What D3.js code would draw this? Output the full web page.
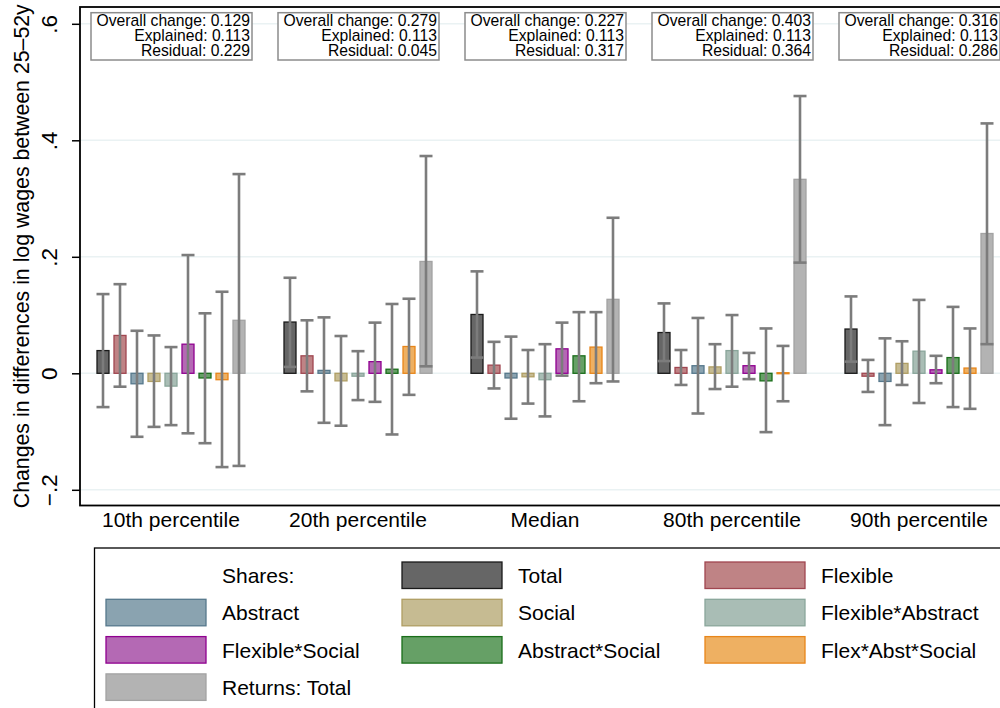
<!DOCTYPE html>
<html>
<head>
<meta charset="utf-8">
<script src="https://cdn.jsdelivr.net/npm/d3@7"></script>
<style>
  html, body { margin: 0; padding: 0; background: #fff; }
  svg { display: block; font-family: "Liberation Sans", Arial, Helvetica, sans-serif; }
</style>
</head>
<body>
<svg id="chart" width="1000" height="708"></svg>
<script>
// ---------------- data ----------------
const groups = ["10th percentile", "20th percentile", "Median", "80th percentile", "90th percentile"];
const series = ["Total", "Flexible", "Abstract", "Social", "Flexible*Abstract",
                "Flexible*Social", "Abstract*Social", "Flex*Abst*Social", "Returns: Total"];

// point estimates per group (order of `series`)
const est10  = [0.039, 0.065, -0.018, -0.014, -0.022, 0.050, -0.008, -0.011, 0.091];
const est20  = [0.088, 0.030, 0.005, -0.013, -0.005, 0.020, 0.007, 0.046, 0.192];
const estMed = [0.101, 0.014, -0.008, -0.006, -0.011, 0.042, 0.030, 0.045, 0.127];
const est80  = [0.070, 0.010, 0.013, 0.011, 0.039, 0.013, -0.013, 0.001, 0.333];
const est90  = [0.076, -0.005, -0.014, 0.017, 0.038, 0.006, 0.027, 0.009, 0.240];

// lower confidence bounds
const lo10  = [-0.058, -0.023, -0.109, -0.092, -0.089, -0.103, -0.120, -0.161, -0.159];
const lo20  = [0.011, -0.031, -0.085, -0.090, -0.046, -0.049, -0.105, -0.037, 0.012];
const loMed = [0.027, -0.026, -0.078, -0.052, -0.074, -0.004, -0.048, -0.017, -0.014];
const lo80  = [0.021, -0.020, -0.069, -0.027, -0.023, -0.010, -0.101, -0.048, 0.190];
const lo90  = [0.020, -0.032, -0.089, -0.020, -0.051, -0.017, -0.058, -0.061, 0.050];

// upper confidence bounds
const hi10  = [0.136, 0.153, 0.073, 0.065, 0.045, 0.203, 0.103, 0.140, 0.342];
const hi20  = [0.164, 0.091, 0.096, 0.064, 0.038, 0.087, 0.119, 0.128, 0.373];
const hiMed = [0.175, 0.054, 0.063, 0.040, 0.050, 0.087, 0.105, 0.105, 0.267];
const hi80  = [0.120, 0.040, 0.095, 0.050, 0.100, 0.035, 0.077, 0.047, 0.476];
const hi90  = [0.132, 0.023, 0.060, 0.055, 0.126, 0.030, 0.114, 0.077, 0.429];

// annotation boxes
const overallChange = ["0.129", "0.279", "0.227", "0.403", "0.316"];
const explained     = ["0.113", "0.113", "0.113", "0.113", "0.113"];
const residual      = ["0.229", "0.045", "0.317", "0.364", "0.286"];

// axis
const yTicks      = [-0.2, 0, 0.2, 0.4, 0.6];
const yTickLabels = ["\u2212.2", "0", ".2", ".4", ".6"];
const yTitle = "Changes in differences in log wages between 25\u201352y";

// ---------------- styles ----------------
const fills   = ["#666666", "#bf8385", "#8aa3b0", "#c6bb92", "#a9bdb5", "#b469b4", "#66a066", "#eeb062", "#b3b3b3"];
const strokes = ["#1a1a1a", "#a04650", "#56788c", "#b09e63", "#8aa69b", "#900090", "#1a6e1a", "#e8861a", "#a3a3a3"];

const estimates = [est10, est20, estMed, est80, est90];
const lows = [lo10, lo20, loMed, lo80, lo90];
const highs = [hi10, hi20, hiMed, hi80, hi90];

const rows = [];
groups.forEach((g, gi) => {
  series.forEach((s, si) => {
    rows.push({ group: g, series: s, si, value: estimates[gi][si], lo: lows[gi][si], hi: highs[gi][si] });
  });
});

// ---------------- layout ----------------
const svg = d3.select("#chart");
const plot = { left: 80, right: 1012, top: 7, bottom: 505.5 };

const y = d3.scaleLinear().domain([-0.2, 0.6]).range([489.8, 23.8]);
const x0 = d3.scaleBand().domain(groups).range([77.5, 1012.5]).padding(0);
const x1 = d3.scalePoint().domain(series).range([-68, 68]);
const barW = 12;
const cx = d => x0(d.group) + x0.bandwidth() / 2 + x1(d.series);

// gridlines
svg.append("g").selectAll("line").data(yTicks).join("line")
  .attr("x1", plot.left).attr("x2", plot.right)
  .attr("y1", d => y(d)).attr("y2", d => y(d))
  .attr("stroke", "#eaf2f3").attr("stroke-width", 1.5);

// bars
svg.append("g").selectAll("rect").data(rows).join("rect")
  .attr("x", d => cx(d) - barW / 2)
  .attr("width", barW)
  .attr("y", d => Math.min(y(d.value), y(0)))
  .attr("height", d => Math.max(1, Math.abs(y(d.value) - y(0))))
  .attr("fill", d => fills[d.si])
  .attr("stroke", d => strokes[d.si])
  .attr("stroke-width", 1.3);

// error bars
const eb = svg.append("g").attr("stroke", "#7c7c7c").attr("stroke-width", 2.6).attr("fill", "none");
eb.selectAll("line.v").data(rows).join("line").attr("class", "v")
  .attr("x1", cx).attr("x2", cx)
  .attr("y1", d => y(d.lo)).attr("y2", d => y(d.hi));
eb.selectAll("line.top").data(rows).join("line").attr("class", "top")
  .attr("x1", d => cx(d) - 6.5).attr("x2", d => cx(d) + 6.5)
  .attr("y1", d => y(d.hi)).attr("y2", d => y(d.hi));
eb.selectAll("line.bot").data(rows).join("line").attr("class", "bot")
  .attr("x1", d => cx(d) - 6.5).attr("x2", d => cx(d) + 6.5)
  .attr("y1", d => y(d.lo)).attr("y2", d => y(d.lo));

// plot border (top, left, bottom)
svg.append("rect")
  .attr("x", plot.left).attr("y", plot.top)
  .attr("width", plot.right - plot.left).attr("height", plot.bottom - plot.top)
  .attr("fill", "none").attr("stroke", "#000").attr("stroke-width", 1.8);

// y axis
const yAxis = d3.axisLeft(y).tickValues(yTicks).tickSize(8).tickFormat((d, i) => yTickLabels[i]);
const yg = svg.append("g").attr("transform", `translate(${plot.left},0)`).call(yAxis);
yg.select(".domain").remove();
yg.selectAll(".tick line").attr("stroke", "#000").attr("stroke-width", 1.5);
yg.selectAll(".tick text")
  .attr("transform", "rotate(-90)")
  .attr("x", 0).attr("y", -23).attr("dy", null)
  .attr("text-anchor", "middle")
  .attr("font-size", 22.5).attr("fill", "#000")
  .attr("font-family", "Liberation Sans, Arial, sans-serif");

// y title
svg.append("text")
  .attr("transform", `translate(29,${(plot.top + plot.bottom) / 2}) rotate(-90)`)
  .attr("text-anchor", "middle").attr("font-size", 21.3).attr("fill", "#000")
  .text(yTitle);

// x labels
svg.append("g").selectAll("text").data(groups).join("text")
  .attr("x", d => x0(d) + x0.bandwidth() / 2).attr("y", 527)
  .attr("text-anchor", "middle").attr("font-size", 21).attr("fill", "#000")
  .text(d => d);

// annotation boxes
const ann = svg.append("g").selectAll("g").data(groups).join("g")
  .attr("transform", d => `translate(${x0(d) + x0.bandwidth() / 2},0)`);
ann.append("rect")
  .attr("x", -80).attr("y", 12.7).attr("width", 161).attr("height", 47.3)
  .attr("fill", "#fff").attr("stroke", "#8c8c8c").attr("stroke-width", 1.5);
ann.each(function (d, i) {
  const g = d3.select(this);
  const lines = ["Overall change: " + overallChange[i], "Explained: " + explained[i], "Residual: " + residual[i]];
  lines.forEach((t, k) => {
    g.append("text").attr("x", 79).attr("y", 26 + k * 15)
      .attr("text-anchor", "end").attr("font-size", 15.7).attr("fill", "#000").text(t);
  });
});

// legend
const leg = svg.append("g");
leg.append("rect")
  .attr("x", 94.5).attr("y", 548).attr("width", 930).attr("height", 200)
  .attr("fill", "#fff").attr("stroke", "#000").attr("stroke-width", 1.3);
const colSw = [106, 402, 705];
const rowTop = 562, rowStep = 37.3;
leg.append("text").attr("x", colSw[0] + 116).attr("y", rowTop + 21)
  .attr("font-size", 21).attr("fill", "#000").text("Shares:");
series.forEach((s, i) => {
  const k = i + 1, col = k % 3, row = Math.floor(k / 3);
  leg.append("rect")
    .attr("x", colSw[col]).attr("y", rowTop + row * rowStep)
    .attr("width", 100).attr("height", 26.5)
    .attr("fill", fills[i]).attr("stroke", strokes[i]).attr("stroke-width", 1.3);
  leg.append("text")
    .attr("x", colSw[col] + 116).attr("y", rowTop + row * rowStep + 21)
    .attr("font-size", 21).attr("fill", "#000").text(s);
});
</script>
</body>
</html>
